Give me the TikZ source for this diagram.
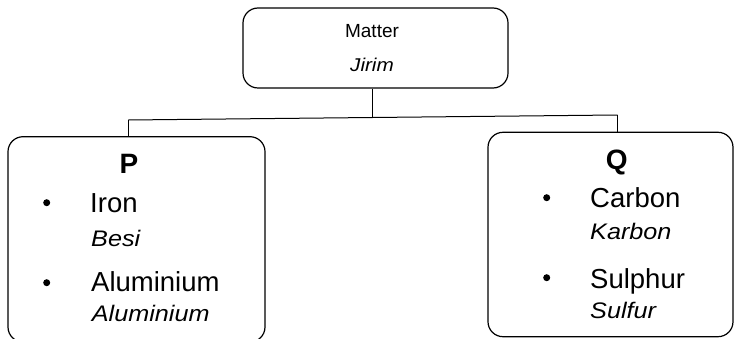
\documentclass[tikz,border=0pt]{standalone}
\usepackage{fontspec}
\setmainfont{Liberation Sans}[ItalicFeatures={FakeStretch=1.12}]
\begin{document}
\begin{tikzpicture}[x=1pt,y=1pt,
  box/.style={draw=black, line width=1.2pt, rounded corners=15pt, inner sep=0pt},
  conn/.style={draw=black, line width=1pt},
  txt/.style={inner sep=0pt, anchor=base west},
  small/.style={font=\fontsize{19}{22}\selectfont},
  smallit/.style={font=\fontsize{18.5}{21}\selectfont\itshape},
  big/.style={font=\fontsize{27.5}{32}\selectfont},
  bigit/.style={font=\fontsize{22.5}{26}\selectfont\itshape},
  head/.style={font=\fontsize{28}{33}\selectfont\bfseries, inner sep=0pt, anchor=base},
  bul/.style={circle, fill=black, inner sep=0pt, minimum size=7pt}
]
\useasboundingbox (0,0) rectangle (734,-339);
% boxes
\node[box, minimum width=265pt, minimum height=80pt] (top) at (375.5,-48) {};
\node[box, minimum width=257pt, minimum height=205.3pt] (P) at (136.5,-239.35) {};
\node[box, minimum width=245pt, minimum height=204.4pt] (Q) at (610.5,-234.5) {};
% connectors
\coordinate (jt) at (372,-117.5);
\coordinate (hl) at (128.3,-120);
\coordinate (hr) at (617.3,-115);
\draw[conn] (top.south -| jt) -- (jt);
\draw[conn] (hl) -- (hr);
\draw[conn] (hl) -- (hl |- P.north);
\draw[conn] (hr) -- (hr |- Q.north);
% top texts
\node[small, inner sep=0pt, anchor=base] (matter) at (372,-38) {Matter};
\node[smallit, inner sep=0pt, anchor=base] (jirim) at (372,-72) {Jirim};
% P
\node[head] (ph) at (129,-174) {P};
\node[bul] (b1) at (46.7,-202.7) {};
\node[txt, big] (iron) at (90,-212.7) {Iron};
\node[txt, bigit] (besi) at (91,-246.7) {Besi};
\node[bul] (b2) at (46.7,-282.7) {};
\node[txt, big] (alu) at (91,-291.7) {Aluminium};
\node[txt, bigit] (aluit) at (91.7,-321.7) {Aluminium};
% Q
\node[head] (qh) at (616.7,-170) {Q};
\node[bul] (b3) at (546.7,-197.7) {};
\node[txt, big] (carbon) at (590,-207.7) {Carbon};
\node[txt, bigit] (karbon) at (590,-240) {Karbon};
\node[bul] (b4) at (546.7,-277.7) {};
\node[txt, big] (sulphur) at (590,-288.3) {Sulphur};
\node[txt, bigit] (sulfur) at (590,-318.3) {Sulfur};
\end{tikzpicture}
\end{document}
